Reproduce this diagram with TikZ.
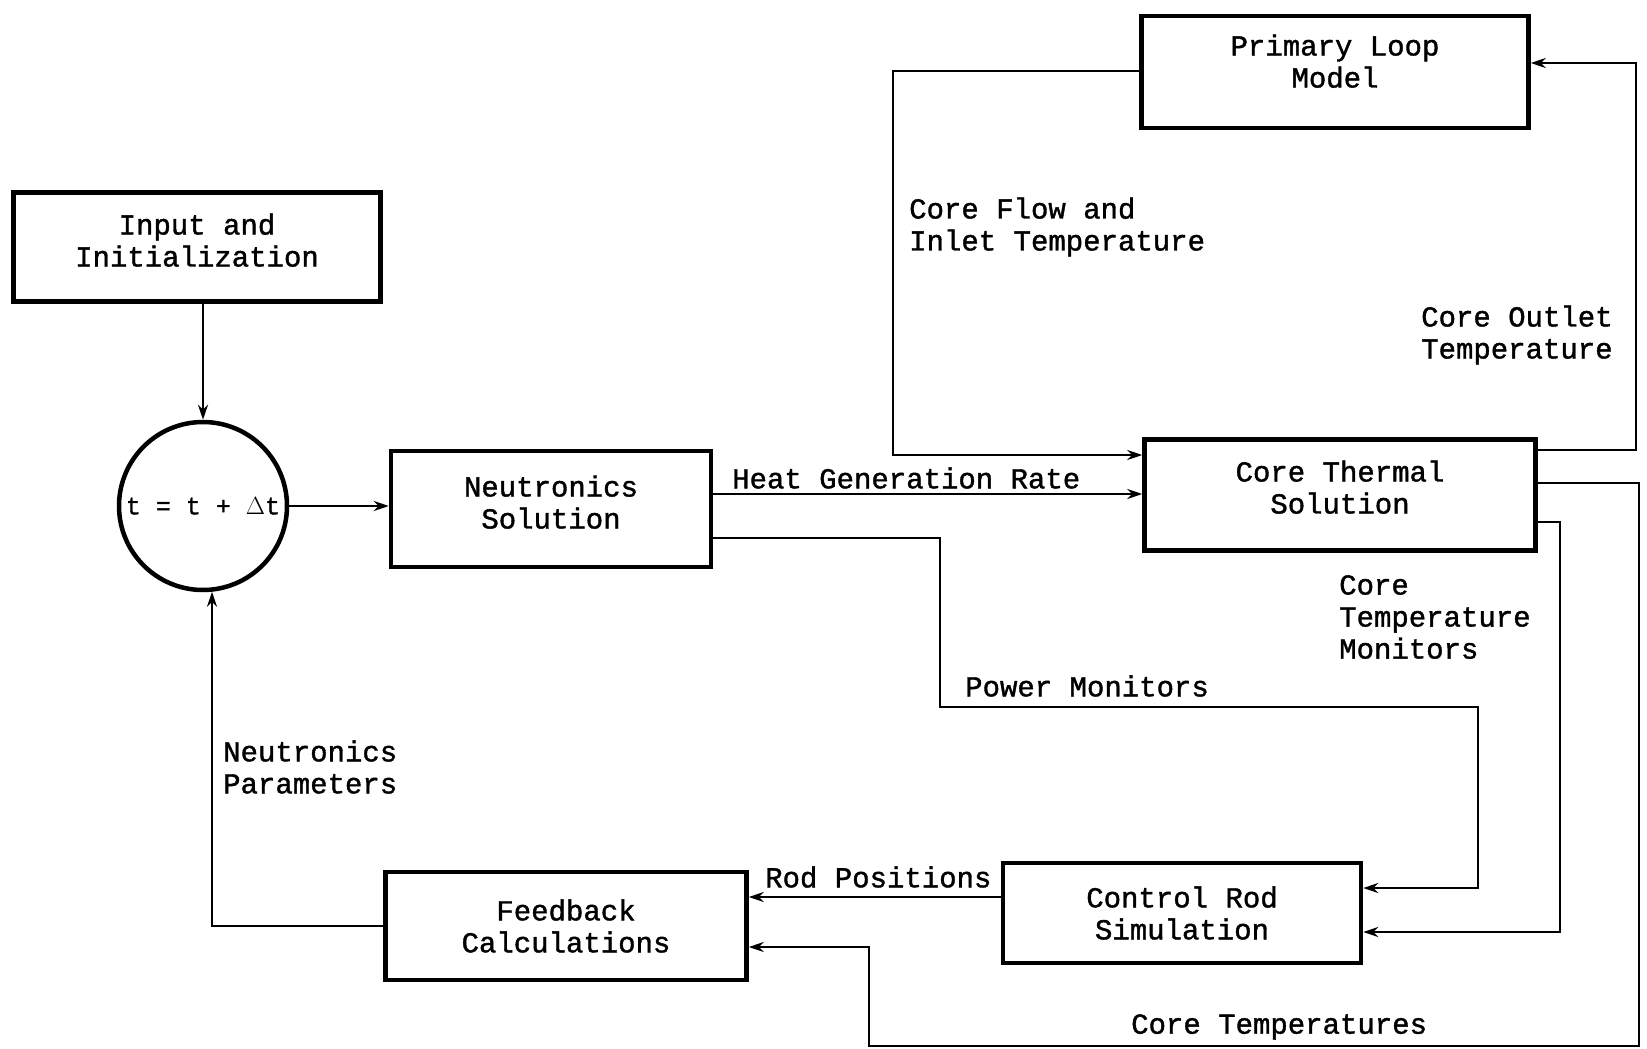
\documentclass[tikz,border=0pt]{standalone}
\usepackage{fontspec}
\setmonofont{Liberation Mono}[RawFeature={embolden=1.3}]
\usetikzlibrary{arrows.meta}
\begin{document}
\begin{tikzpicture}[x=1pt,y=-1pt,
  every node/.style={font=\ttfamily\fontsize{29}{32}\selectfont},
  blk/.style={draw, line width=4.5pt, align=center, inner sep=0pt},
  lbl/.style={anchor=west, align=left, inner sep=0pt},
  conn/.style={line width=2.6pt},
  arr/.style={conn, -{Stealth[length=15pt,width=10pt]}}]
\useasboundingbox (0,0) rectangle (1647,1049);
% blocks
\node[blk, minimum width=367pt, minimum height=109pt] (inp) at (197,247) {Input and\\Initialization\rule[-14pt]{0pt}{1pt}};
\node[draw, circle, line width=4.5pt, minimum size=168pt, inner sep=0pt, font=\ttfamily\fontsize{25}{30}\selectfont] (clk) at (203,506) {t = t + $\Delta$t};
\node[blk, minimum width=320pt, minimum height=116pt] (neu) at (551,509) {Neutronics\\Solution\rule[-14pt]{0pt}{1pt}};
\node[blk, minimum width=387pt, minimum height=112pt] (plm) at (1335,72) {Primary Loop\\Model\rule[-22pt]{0pt}{1pt}};
\node[blk, minimum width=391pt, minimum height=111pt] (cts) at (1340,495) {Core Thermal\\Solution\rule[-16pt]{0pt}{1pt}};
\node[blk, minimum width=361pt, minimum height=108pt] (fbk) at (566,926) {Feedback\\Calculations};
\node[blk, minimum width=358pt, minimum height=100pt] (crs) at (1182,913) {Control Rod\\Simulation};
% turning points
\coordinate (hg) at (0,494);
\coordinate (pA) at (893,71);
\coordinate (pB) at (893,455);
\coordinate (oA) at (1636,450);
\coordinate (oB) at (1636,63);
\coordinate (mA) at (940,538);
\coordinate (mB) at (940,707);
\coordinate (mC) at (1478,707);
\coordinate (mD) at (1478,888);
\coordinate (tA) at (1560,522);
\coordinate (tB) at (1560,932);
\coordinate (cA) at (1639,483);
\coordinate (cB) at (1639,1046);
\coordinate (cC) at (869,1046);
\coordinate (cD) at (869,947);
\coordinate (rp) at (0,897);
% connectors
\draw[arr] (clk.north |- inp.south) -- (clk.north);
\draw[arr] (clk.east) -- (clk.east -| neu.west);
\draw[arr] (fbk.west) -| (clk.276);
\draw[arr] (neu.east |- hg) -- (cts.west |- hg);
\draw[arr] (plm.west |- pA) -- (pA) -- (pB) -- (cts.west |- pB);
\draw[arr] (cts.east |- oA) -- (oA) -- (oB) -- (plm.east |- oB);
\draw[arr] (neu.east |- mA) -- (mA) -- (mB) -- (mC) -- (mD) -- (crs.east |- mD);
\draw[arr] (cts.east |- tA) -- (tA) -- (tB) -- (crs.east |- tB);
\draw[arr] (cts.east |- cA) -- (cA) -- (cB) -- (cC) -- (cD) -- (fbk.east |- cD);
\draw[arr] (crs.west |- rp) -- (fbk.east |- rp);
% labels
\node[lbl] (l1) at (909,227) {Core Flow and\\Inlet Temperature};
\node[lbl] (l2) at (1421,335) {Core Outlet\\Temperature};
\node[lbl] (l3) at (732,478) {Heat Generation Rate};
\node[lbl] (l4) at (1339,617) {Core\\Temperature\\Monitors};
\node[lbl] (l5) at (965,686) {Power Monitors};
\node[lbl] (l6) at (223,767) {Neutronics\\Parameters};
\node[lbl] (l7) at (765,877) {Rod Positions};
\node[lbl] (l8) at (1131,1027) {Core Temperatures};
\end{tikzpicture}
\end{document}
